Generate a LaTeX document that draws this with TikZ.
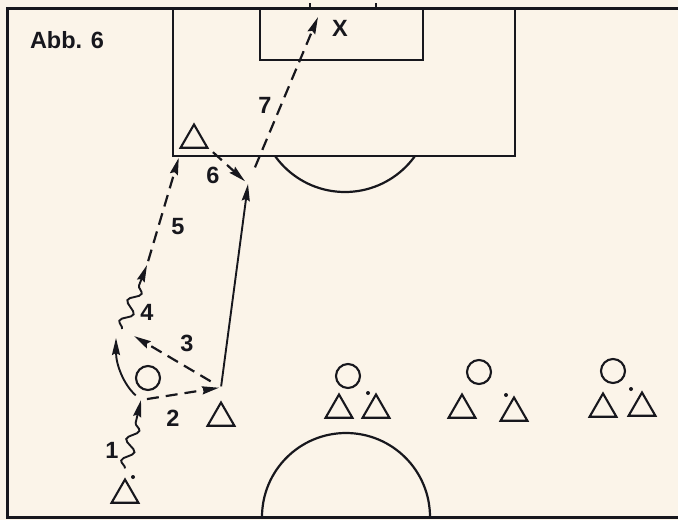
\documentclass[tikz,border=0pt]{standalone}
\usepackage{fontspec}
\setmainfont{Liberation Sans}
\usetikzlibrary{arrows.meta, positioning, shapes.geometric, decorations.pathmorphing}
\definecolor{Paper}{HTML}{FBF4E9}
\definecolor{Ink}{HTML}{17171D}

\begin{document}
\begin{tikzpicture}[
    x=1pt, y=-1pt,
    pitch/.style={Ink, line width=2.2pt},
    player/.style={regular polygon, regular polygon sides=3, draw=Ink, line width=2.1pt, minimum size=31pt, inner sep=0pt},
    opponent/.style={circle, draw=Ink, line width=2.1pt, minimum size=24pt, inner sep=0pt},
    pass/.style={Ink, line width=2.2pt, dash pattern=on 12pt off 7pt, -{Stealth[length=17pt, width=8pt, inset=2pt]}},
    run/.style={Ink, line width=1.9pt, -{Stealth[length=17pt, width=8pt, inset=2pt]}},
    dribble/.style={run, decorate, decoration={snake, amplitude=5.5pt, segment length=22pt, post length=14pt}},
    num/.style={font=\fontsize{23.5}{24}\selectfont\bfseries, text=Ink, inner sep=1pt}
]
\fill[Paper] (0,0) rectangle (678,520);
\useasboundingbox (0,0) rectangle (678,520);

% Pitch
\draw[pitch, line width=3pt] (678,8) -- (7,8) -- (7,517) -- (678,517);
\draw[pitch] (173,8) -- (173,156) -- (515,156) -- (515,8);
\draw[pitch] (260,8) -- (260,60) -- (423,60) -- (423,8);
\draw[pitch] (310,8) -- (310,3) (376,8) -- (376,3);
\begin{scope}
  \clip (173,156) rectangle (515,300);
  \draw[pitch] (345,106) circle[radius=86];
\end{scope}
\begin{scope}
  \clip (7,8) rectangle (678,517);
  \draw[pitch] (346,517) circle[radius=84];
\end{scope}

\node[num] (title) at (67,40) {Abb. 6};

% Players
\node[player] (t1) at (125,495) {};
\node[player] (t2) at (221,418) {};
\node[player] (t3) at (194,140) {};
\node[opponent] (o1) at (148,378) {};
\fill[Ink] (133,477) circle[radius=2];

% Waiting groups
\node[opponent] (o2) at (348,376) {};
\node[player] (g1a) at (339,410) {};
\node[player] (g1b) at (376,410) {};
\fill[Ink] (368,393) circle[radius=2];
\node[opponent] (o3) at (479,372) {};
\node[player] (g2a) at (462,410) {};
\node[player] (g2b) at (514,413) {};
\fill[Ink] (506,395) circle[radius=2];
\node[opponent] (o4) at (613,371) {};
\node[player] (g3a) at (603,409) {};
\node[player] (g3b) at (642,408) {};
\fill[Ink] (631,389) circle[radius=2];

% Way points
\coordinate (b1) at (141,400);
\coordinate (m2) at ([yshift=13pt]t2.north);
\coordinate (k1) at (116,338);
\coordinate (k2) at (122,329);
\coordinate (d4) at (147,265);
\coordinate (e5) at ([yshift=-9pt]t3.corner 2);
\coordinate (r6) at (248,184);
\coordinate (g7) at (318,17);

% Moves
\draw[dribble] ([yshift=9pt]t1.north) -- (b1);
\draw[pass, shorten <=6pt, shorten >=2pt] (b1) -- (m2);
\draw[run, shorten <=7pt] (b1) .. controls (124,385) and (116,365) .. (k1);
\draw[pass, shorten <=12pt, shorten >=14pt] (m2) -- (k2);
\draw[dribble] (k2) -- (d4);
\draw[pass, shorten <=4pt] (d4) -- (e5);
\draw[run, shorten <=1pt] (m2) -- (r6);
\draw[pass, shorten <=5pt, shorten >=4pt] (t3.corner 3) -- (r6);
\draw[pass, shorten <=18pt] (r6) -- (g7);

% Numbers
\node[num] (n1) at (112,450) {1};
\node[num] (n2) at (173,418) {2};
\node[num] (n3) at (187,343) {3};
\node[num] (n4) at (147,312) {4};
\node[num] (n5) at (178,227) {5};
\node[num] (n6) at (213,175) {6};
\node[num] (n7) at (265,105) {7};
\node[num] (x) at (340,28) {X};
\end{tikzpicture}
\end{document}
